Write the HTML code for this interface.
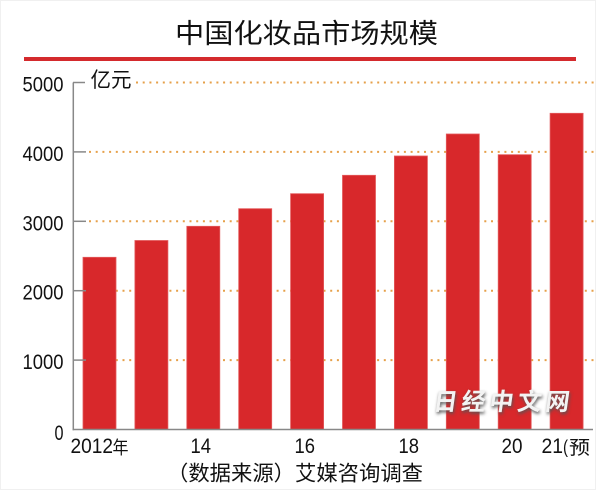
<!DOCTYPE html>
<html><head><meta charset="utf-8"><style>
html,body{margin:0;padding:0;background:#fff;}
#c{position:relative;width:600px;height:490px;overflow:hidden;background:#fff;}
svg{position:absolute;left:0;top:0;}
.wm{position:absolute;left:434px;top:382px;font-family:"Liberation Sans","Noto Sans CJK SC",sans-serif;font-size:24px;font-weight:bold;letter-spacing:4px;color:#f3f3f3;text-shadow:1px 2px 3px #555;white-space:nowrap;transform:skewX(-8deg);}
</style></head><body><div id="c">
<svg width="600" height="490" viewBox="0 0 600 490" xmlns="http://www.w3.org/2000/svg">
<rect x="0.5" y="0.5" width="595" height="489" fill="none" stroke="#f0f0f0" stroke-width="1"/>
<text x="175" y="43" font-family="'Liberation Sans','Noto Sans CJK SC',sans-serif" font-size="27" fill="#111" textLength="263" lengthAdjust="spacingAndGlyphs">中国化妆品市场规模</text>
<rect x="24" y="57" width="552" height="4" fill="#d42a2d"/>
<g stroke="#e6a04a" stroke-width="2" stroke-dasharray="2 4.7" fill="none">
<line x1="136" y1="82.5" x2="596" y2="82.5"/>
<line x1="89" y1="151.9" x2="596" y2="151.9"/>
<line x1="89" y1="221.3" x2="596" y2="221.3"/>
<line x1="89" y1="290.7" x2="596" y2="290.7"/>
<line x1="89" y1="360.1" x2="596" y2="360.1"/>
</g>
<g fill="#d8282b" stroke="#e35a5c" stroke-width="0.8">
<rect x="83" y="257.3" width="33" height="172.2"/>
<rect x="134.9" y="240.5" width="33" height="189"/>
<rect x="186.8" y="226.3" width="33" height="203.2"/>
<rect x="238.7" y="208.7" width="33" height="220.8"/>
<rect x="290.6" y="193.7" width="33" height="235.8"/>
<rect x="342.5" y="175.3" width="33" height="254.2"/>
<rect x="394.4" y="156" width="33" height="273.5"/>
<rect x="446.3" y="134" width="33" height="295.5"/>
<rect x="498.2" y="154.7" width="33" height="274.8"/>
<rect x="550.1" y="113.3" width="33" height="316.2"/>
</g>
<g stroke="#888" stroke-width="1.5" fill="none">
<line x1="73.3" y1="82.5" x2="73.3" y2="430.2"/>
<line x1="72.5" y1="429.5" x2="593" y2="429.5"/>
<line x1="73" y1="82.5" x2="85" y2="82.5"/>
<line x1="73" y1="151.9" x2="86" y2="151.9"/>
<line x1="73" y1="221.3" x2="86" y2="221.3"/>
<line x1="73" y1="290.7" x2="86" y2="290.7"/>
<line x1="73" y1="360.1" x2="86" y2="360.1"/>
</g>
<g font-family="'Liberation Sans',sans-serif" font-size="21" fill="#111">
<text x="22.5" y="91.5" textLength="41" lengthAdjust="spacingAndGlyphs">5000</text>
<text x="22.5" y="160.9" textLength="41" lengthAdjust="spacingAndGlyphs">4000</text>
<text x="22.5" y="230.3" textLength="41" lengthAdjust="spacingAndGlyphs">3000</text>
<text x="22.5" y="299.7" textLength="41" lengthAdjust="spacingAndGlyphs">2000</text>
<text x="22.5" y="369.1" textLength="41" lengthAdjust="spacingAndGlyphs">1000</text>
<text x="54.5" y="440" textLength="9" lengthAdjust="spacingAndGlyphs">0</text>
<text x="70.5" y="453" textLength="42.5" lengthAdjust="spacingAndGlyphs">2012</text>
<text x="190.5" y="453" textLength="20.5" lengthAdjust="spacingAndGlyphs">14</text>
<text x="294.5" y="453" textLength="20.5" lengthAdjust="spacingAndGlyphs">16</text>
<text x="398.5" y="453" textLength="20.5" lengthAdjust="spacingAndGlyphs">18</text>
<text x="501.5" y="453" textLength="21" lengthAdjust="spacingAndGlyphs">20</text>
<text x="541.5" y="453" textLength="21.5" lengthAdjust="spacingAndGlyphs">21</text>
<text x="563" y="453" font-size="18" textLength="5" lengthAdjust="spacingAndGlyphs">(</text>
</g>
<g font-family="'Liberation Sans','Noto Sans CJK SC',sans-serif" fill="#111">
<text x="112.5" y="454" font-size="18" textLength="16" lengthAdjust="spacingAndGlyphs">年</text>
<text x="569" y="454" font-size="19" textLength="21" lengthAdjust="spacingAndGlyphs">预</text>
<text x="90.5" y="87" font-size="21" textLength="41" lengthAdjust="spacingAndGlyphs">亿元</text>
<text x="167" y="480.5" font-size="21" textLength="256" lengthAdjust="spacingAndGlyphs">（数据来源）艾媒咨询调查</text>
</g>
</svg>
<div class="wm">日经中文网</div>
</div></body></html>
